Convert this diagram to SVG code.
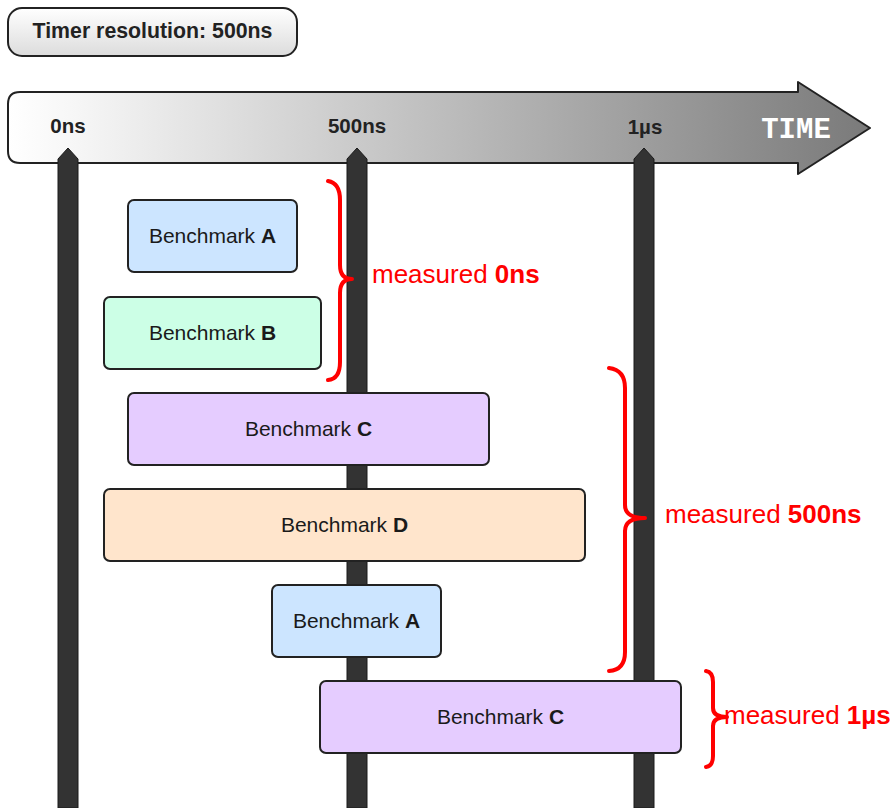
<svg xmlns="http://www.w3.org/2000/svg" width="895" height="808" viewBox="0 0 895 808">
<style>
.lbl{font-family:"Liberation Sans",Arial,sans-serif;font-size:21px;fill:#1a1a1a;text-anchor:middle}
.b{font-weight:bold}
.tick{font-family:"Liberation Sans",Arial,sans-serif;font-size:20.5px;font-weight:bold;fill:#222;text-anchor:middle}
.box{stroke:#222;stroke-width:2}
.bar{fill:#333;stroke:#1a1a1a;stroke-width:1}
.brace{fill:none;stroke:#ff0000;stroke-width:4;stroke-linecap:round;stroke-linejoin:round}
.meas{font-family:"Liberation Sans",Arial,sans-serif;font-size:26px;fill:#ff0000}
</style>
<defs>
<linearGradient id="gTimer" x1="0" y1="0" x2="0" y2="1">
<stop offset="0" stop-color="#ffffff"/>
<stop offset="1" stop-color="#dcdcdc"/>
</linearGradient>
<linearGradient id="gTime" gradientUnits="userSpaceOnUse" x1="8" y1="0" x2="870" y2="0">
<stop offset="0" stop-color="#ffffff"/>
<stop offset="0.08" stop-color="#f6f6f6"/>
<stop offset="1" stop-color="#7a7a7a"/>
</linearGradient>
</defs>
<rect width="895" height="808" fill="#ffffff"/>

<g id="timer-resolution">
<rect x="8" y="8" width="289" height="48" rx="14" fill="url(#gTimer)" class="box"/>
<text x="152.5" y="38" class="tick" style="font-size:21.3px">Timer resolution: 500ns</text>
</g>

<g id="time-axis">
<path d="M20,92 L798,92 L798,82 L870,128 L798,174 L798,163 L20,163 Q8,163 8,151 L8,104 Q8,92 20,92 Z" fill="url(#gTime)" stroke="#222" stroke-width="2" stroke-linejoin="round"/>
<text x="796" y="138" style="font-family:'Liberation Mono','DejaVu Sans Mono',monospace;font-size:29px;font-weight:bold;fill:#ffffff;text-anchor:middle">TIME</text>
</g>

<g id="connectors">
<g id="tick-0ns">
<polygon class="bar" points="58,808 58,159 68,148 78,159 78,808"/>
<text x="68" y="133" class="tick">0ns</text>
</g>
<g id="tick-500ns">
<polygon class="bar" points="347,808 347,159 357,148 367,159 367,808"/>
<text x="357" y="133" class="tick">500ns</text>
</g>
<g id="tick-1us">
<polygon class="bar" points="634,808 634,159 644,148 654,159 654,808"/>
<text x="645" y="134" class="tick">1µs</text>
</g>
</g>

<g id="bench-a1">
<rect x="128" y="200" width="169" height="72" rx="6" fill="#cce5ff" class="box"/>
<text x="212.5" y="243" class="lbl">Benchmark <tspan class="b">A</tspan></text>
</g>
<g id="bench-b">
<rect x="104" y="297" width="217" height="72" rx="6" fill="#ccffe6" class="box"/>
<text x="212.5" y="340" class="lbl">Benchmark <tspan class="b">B</tspan></text>
</g>
<g id="bench-c1">
<rect x="128" y="393" width="361" height="72" rx="6" fill="#e5ccff" class="box"/>
<text x="308.5" y="436" class="lbl">Benchmark <tspan class="b">C</tspan></text>
</g>
<g id="bench-d">
<rect x="104" y="489" width="481" height="72" rx="6" fill="#ffe5cc" class="box"/>
<text x="344.5" y="532" class="lbl">Benchmark <tspan class="b">D</tspan></text>
</g>
<g id="bench-a2">
<rect x="272" y="585" width="169" height="72" rx="6" fill="#cce5ff" class="box"/>
<text x="356.5" y="628" class="lbl">Benchmark <tspan class="b">A</tspan></text>
</g>
<g id="bench-c2">
<rect x="320" y="681" width="361" height="72" rx="6" fill="#e5ccff" class="box"/>
<text x="500.5" y="724" class="lbl">Benchmark <tspan class="b">C</tspan></text>
</g>

<g id="measure-0ns">
<path class="brace" d="M328,181 Q340,183 340,200 L340,265 Q340,279 352,279 Q340,279 340,293 L340,362 Q340,379 328,380"/>
<text x="372" y="283" class="meas">measured <tspan class="b">0ns</tspan></text>
</g>
<g id="measure-500ns">
<path class="brace" d="M609,368 Q625,370 625,388 L625,505 Q625,518 645,518 Q625,518 625,531 L625,652 Q625,670 609,671"/>
<text x="665" y="523" class="meas">measured <tspan class="b">500ns</tspan></text>
</g>
<g id="measure-1us">
<path class="brace" d="M706,671 Q713,672 713,682 L713,708 Q713,717 727,717 Q713,717 713,726 L713,756 Q713,766 706,767"/>
<text x="724" y="724" class="meas">measured <tspan class="b">1µs</tspan></text>
</g>
</svg>
